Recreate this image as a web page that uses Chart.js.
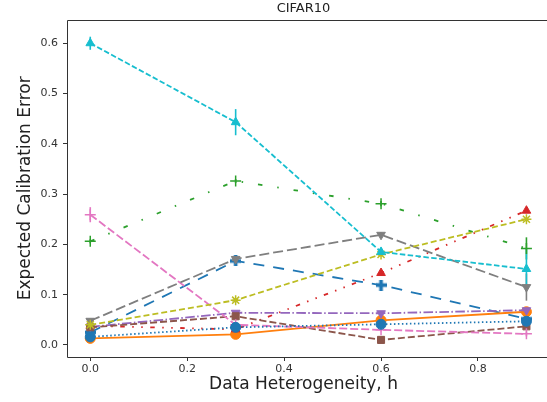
<!DOCTYPE html>
<html>
<head>
<meta charset="utf-8">
<script src="https://cdn.jsdelivr.net/npm/chart.js@4.4.1/dist/chart.umd.min.js"></script>
<style>
  html, body { margin: 0; padding: 0; overflow: hidden; background: #fff; }
  canvas { display: block; }
</style>
</head>
<body>
<canvas id="eceChart" width="547" height="402"></canvas>
<script>
// ---- Data ----
const hValues = [0.0, 0.3, 0.6, 0.9];
const xTicks = [0.0, 0.2, 0.4, 0.6, 0.8];
const yTicks = [0.0, 0.1, 0.2, 0.3, 0.4, 0.5, 0.6];

const eceBlueDash = [0.025, 0.167, 0.119, 0.052];
const eceOrange   = [0.013, 0.021, 0.049, 0.066];
const eceGreen    = [0.206, 0.326, 0.281, 0.192];
const eceRed      = [0.038, 0.031, 0.143, 0.267];
const ecePurple   = [0.036, 0.064, 0.063, 0.069];
const eceBrown    = [0.035, 0.057, 0.010, 0.037];
const ecePink     = [0.259, 0.040, 0.030, 0.022];
const eceGray     = [0.048, 0.171, 0.219, 0.115];
const eceOlive    = [0.040, 0.089, 0.180, 0.250];
const eceCyan     = [0.600, 0.443, 0.185, 0.151];
const eceBlueDot  = [0.016, 0.035, 0.041, 0.047];

// half-width of the error bars
const errGreen = [0.004, 0.004, 0.005, 0.022];
const errPink  = [0.015, 0.003, 0.003, 0.005];
const errGray  = [0.004, 0.004, 0.005, 0.027];
const errCyan  = [0.013, 0.026, 0.008, 0.040];

// ---- Helpers ----
function plusMarker(color, size) {
  // filled plus, like matplotlib 'P'
  const c = document.createElement('canvas');
  c.width = size; c.height = size;
  const g = c.getContext('2d');
  const t = size / 3;
  g.fillStyle = color;
  g.fillRect(t, 0, t, size);
  g.fillRect(0, t, size, t);
  return c;
}

const seriesDefs = [
  { data: eceBlueDash, color: '#1f77b4', dash: [11, 9],               style: plusMarker('#1f77b4', 11) },
  { data: eceOrange,   color: '#ff7f0e', dash: [],                    style: 'circle' },
  { data: eceGreen,    color: '#2ca02c', dash: [4.5, 15, 1.5, 15],    style: 'cross', err: errGreen },
  { data: eceRed,      color: '#d62728', dash: [4.5, 7.5, 1.5, 7.5, 1.5, 7.5], style: 'triangle' },
  { data: ecePurple,   color: '#9467bd', dash: [9.6, 2.4, 1.5, 2.4],  style: 'triangle', rot: 180 },
  { data: eceBrown,    color: '#8c564b', dash: [7, 3],                style: 'rect' },
  { data: ecePink,     color: '#e377c2', dash: [8, 3],                style: 'cross', err: errPink },
  { data: eceGray,     color: '#7f7f7f', dash: [10, 4],               style: 'triangle', rot: 180, err: errGray },
  { data: eceOlive,    color: '#bcbd22', dash: [6, 3],                style: 'star' },
  { data: eceCyan,     color: '#17becf', dash: [5.5, 2.4],            style: 'triangle', err: errCyan },
  { data: eceBlueDot,  color: '#1f77b4', dash: [1.5, 2.5],            style: 'circle' }
];

const datasets = seriesDefs.map((s, i) => ({
  data: hValues.map((h, j) => ({ x: h, y: s.data[j] })),
  err: s.err || null,
  showLine: true,
  borderColor: s.color,
  backgroundColor: s.color,
  borderWidth: 1.8,
  borderDash: s.dash,
  pointStyle: s.style,
  pointRotation: s.rot || 0,
  pointRadius: s.style === 'cross' ? 5.5 : 5,
  pointBorderWidth: s.style === 'cross' || s.style === 'star' ? 1.5 : 1,
  pointHoverRadius: 5,
  tension: 0,
  fill: false,
  order: seriesDefs.length - i
}));

// ---- Plugins ----
const errorBars = {
  id: 'errorBars',
  beforeDatasetsDraw(chart) {
    const { ctx, scales: { x, y } } = chart;
    chart.data.datasets.forEach((ds) => {
      if (!ds.err) return;
      ctx.save();
      ctx.strokeStyle = ds.borderColor;
      ctx.lineWidth = 1.6;
      ds.data.forEach((p, j) => {
        const e = ds.err[j];
        if (!e) return;
        const px = x.getPixelForValue(p.x);
        ctx.beginPath();
        ctx.moveTo(px, y.getPixelForValue(p.y - e));
        ctx.lineTo(px, y.getPixelForValue(p.y + e));
        ctx.stroke();
      });
      ctx.restore();
    });
  }
};

// axes box: the right spine sits just past the picture's edge, so only top/left/bottom
const frame = {
  id: 'frame',
  afterDraw(chart) {
    const { ctx, chartArea: a } = chart;
    const l = Math.round(a.left) + 0.5, t = Math.round(a.top) + 0.5, b = Math.round(a.bottom) + 0.5;
    ctx.save();
    ctx.strokeStyle = '#333';
    ctx.lineWidth = 1;
    ctx.beginPath();
    ctx.moveTo(chart.width, t);
    ctx.lineTo(l, t);
    ctx.lineTo(l, b);
    ctx.lineTo(chart.width, b);
    ctx.stroke();
    ctx.restore();
  }
};

const tickFont = { family: 'DejaVu Sans', size: 11 };
const labelFont = { family: 'DejaVu Sans', size: 17 };

new Chart(document.getElementById('eceChart').getContext('2d'), {
  type: 'scatter',
  data: { datasets },
  options: {
    responsive: false,
    animation: false,
    layout: { padding: 0 },
    plugins: {
      legend: { display: false },
      tooltip: { enabled: false },
      title: {
        display: true,
        text: 'CIFAR10',
        fullSize: false,
        color: '#222',
        font: { family: 'DejaVu Sans', size: 13, weight: 'normal' },
        padding: { top: 1, bottom: 3 }
      }
    },
    scales: {
      x: {
        type: 'linear',
        min: -0.048,
        max: 0.928,
        afterBuildTicks: (scale) => { scale.ticks = xTicks.map(v => ({ value: v })); },
        afterFit: (scale) => { scale.height = 45; },
        grid: { drawOnChartArea: false, drawTicks: true, tickLength: 4, color: '#333' },
        border: { display: false },
        ticks: { color: '#333', font: tickFont, padding: 2, maxRotation: 0,
          callback: (v) => Number(v).toFixed(1) },
        title: { display: true, text: 'Data Heterogeneity, h', color: '#222',
          font: labelFont, padding: { top: 0, bottom: 7 } }
      },
      y: {
        type: 'linear',
        min: -0.024,
        max: 0.647,
        afterBuildTicks: (scale) => { scale.ticks = yTicks.map(v => ({ value: v })); },
        afterFit: (scale) => { scale.width = 67; },
        grid: { drawOnChartArea: false, drawTicks: true, tickLength: 4, color: '#333' },
        border: { display: false },
        ticks: { color: '#333', font: tickFont, padding: 5,
          callback: (v) => Number(v).toFixed(1) },
        title: { display: true, text: 'Expected Calibration Error', color: '#222',
          font: labelFont, padding: { top: 15, bottom: 0 } }
      }
    }
  },
  plugins: [errorBars, frame]
});
</script>
</body>
</html>
